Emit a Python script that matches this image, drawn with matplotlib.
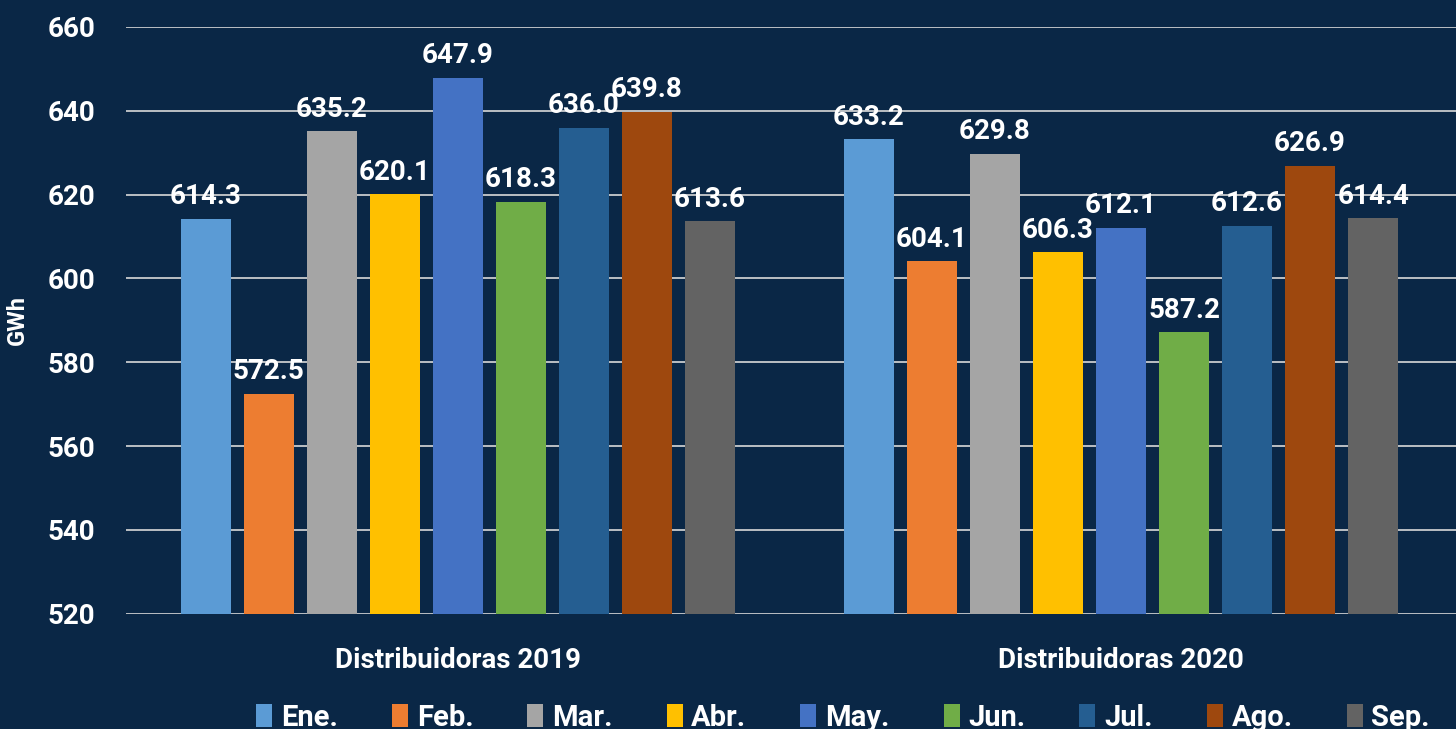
import matplotlib.pyplot as plt
import numpy as np

# Datos
grupos = ["Distribuidoras 2019", "Distribuidoras 2020"]
meses = ["Ene.", "Feb.", "Mar.", "Abr.", "May.", "Jun.", "Jul.", "Ago.", "Sep."]
valores_2019 = [614.3, 572.5, 635.2, 620.1, 647.9, 618.3, 636.0, 639.8, 613.6]
valores_2020 = [633.2, 604.1, 629.8, 606.3, 612.1, 587.2, 612.6, 626.9, 614.4]
colores = ["#5b9bd5", "#ed7d31", "#a5a5a5", "#ffc000", "#4472c4",
           "#70ad47", "#255e91", "#9e480e", "#636363"]

fondo = "#0a2746"
plt.rcParams["font.family"] = ["Roboto", "DejaVu Sans"]

fig = plt.figure(figsize=(14.56, 7.29), dpi=100, facecolor=fondo)
ax = fig.add_axes([0.0865, 0.158, 0.9135, 0.805], facecolor=fondo)

x = np.arange(len(grupos))
paso = 0.095
ancho = 0.0754
for i, mes in enumerate(meses):
    vals = [valores_2019[i], valores_2020[i]]
    pos = x + (i - 4) * paso
    ax.bar(pos, [v - 520 for v in vals], bottom=520, width=ancho,
           color=colores[i], label=mes, zorder=3)
    for p, v in zip(pos, vals):
        ax.text(p, v + 2.0, f"{v:.1f}", ha="center", va="bottom",
                color="white", fontsize=20, fontweight="bold", zorder=4)

ax.set_xlim(-0.5, 1.505)
ax.set_ylim(520, 660)
ax.set_yticks(range(520, 661, 20))
ax.set_xticks(x)
ax.set_xticklabels(grupos, fontsize=20, fontweight="bold", color="white")
ax.tick_params(axis="y", labelsize=20, labelcolor="white", length=0, pad=22)
ax.tick_params(axis="x", length=0, pad=24)
for t in ax.get_yticklabels():
    t.set_fontweight("bold")
ax.grid(axis="y", color="#d9d9d9", linewidth=1.2, zorder=0)
for s in ax.spines.values():
    s.set_visible(False)

ax.set_ylabel("GWh", fontsize=17, fontweight="bold", color="white")
ax.yaxis.set_label_coords(-0.073, 0.5)

leg = fig.legend(loc="lower center", ncol=9, bbox_to_anchor=(0.579, -0.04),
                 frameon=False, fontsize=21, handlelength=0.55, handleheight=0.85,
                 handletextpad=0.3, columnspacing=1.85)
for t in leg.get_texts():
    t.set_color("white")
    t.set_fontweight("bold")

plt.savefig("out.png", dpi=100, facecolor=fondo)
